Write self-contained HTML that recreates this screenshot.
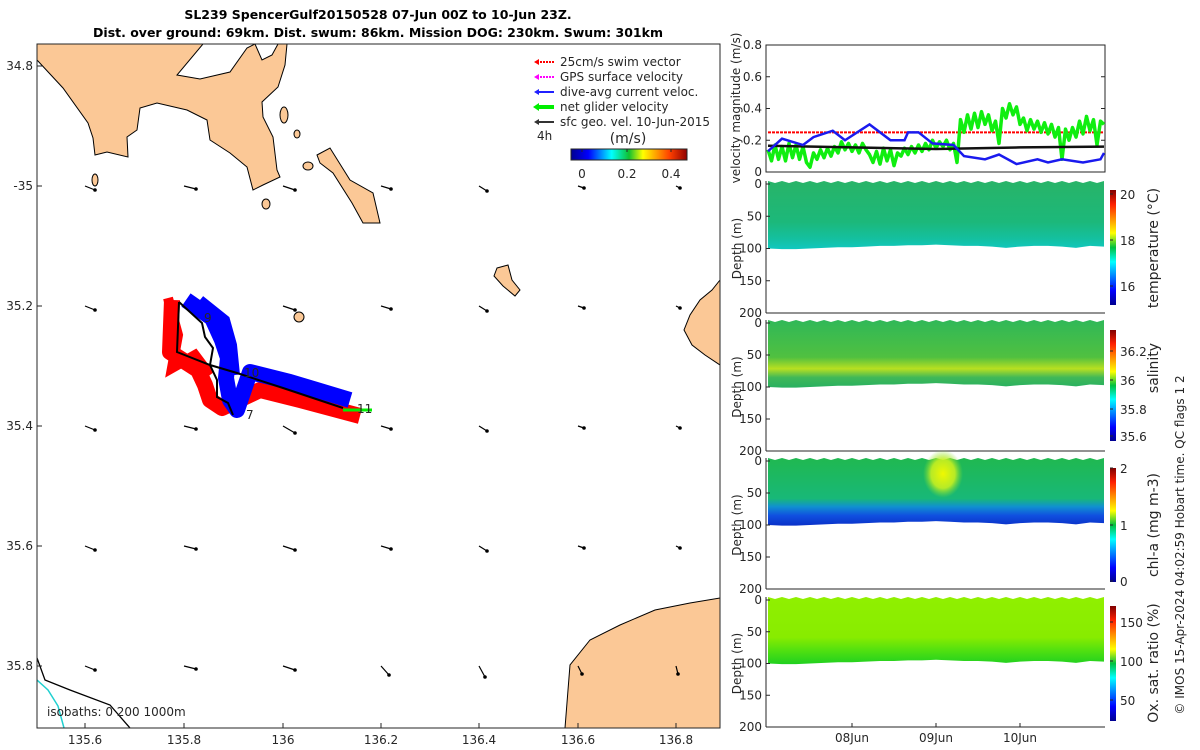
<!DOCTYPE html>
<html><head><meta charset="utf-8">
<style>
body{margin:0;background:#fff;}
svg{display:block;font-family:"DejaVu Sans","Liberation Sans",sans-serif;}
.t{font-size:12px;fill:#262626;}
</style></head>
<body>
<svg id="root" width="1200" height="750" viewBox="0 0 1200 750" xmlns="http://www.w3.org/2000/svg">
<defs>
<linearGradient id="jet" x1="0" y1="1" x2="0" y2="0">
<stop offset="0" stop-color="#00008f"/><stop offset="0.125" stop-color="#0000ff"/><stop offset="0.375" stop-color="#00ffff"/><stop offset="0.5" stop-color="#00c040"/><stop offset="0.625" stop-color="#ffff00"/><stop offset="0.875" stop-color="#ff2000"/><stop offset="1" stop-color="#800000"/>
</linearGradient>
<linearGradient id="jetH" x1="0" y1="0" x2="1" y2="0">
<stop offset="0" stop-color="#00008f"/><stop offset="0.15" stop-color="#0000ff"/><stop offset="0.35" stop-color="#00ffff"/><stop offset="0.5" stop-color="#10c030"/><stop offset="0.62" stop-color="#ffff00"/><stop offset="0.85" stop-color="#ff4000"/><stop offset="1" stop-color="#900000"/>
</linearGradient>
<linearGradient id="gT" x1="0" y1="0" x2="0" y2="1">
<stop offset="0" stop-color="#28b468"/><stop offset="0.6" stop-color="#1cb87a"/><stop offset="0.85" stop-color="#14c0a0"/><stop offset="1" stop-color="#10c8c0"/>
</linearGradient>
<linearGradient id="gS" x1="0" y1="0" x2="0" y2="1">
<stop offset="0" stop-color="#30b858"/><stop offset="0.55" stop-color="#50c040"/><stop offset="0.72" stop-color="#b8e020"/><stop offset="0.85" stop-color="#40b858"/><stop offset="1" stop-color="#28b060"/>
</linearGradient>
<linearGradient id="gC" x1="0" y1="0" x2="0" y2="1">
<stop offset="0" stop-color="#20b850"/><stop offset="0.6" stop-color="#18b878"/><stop offset="0.72" stop-color="#1090d0"/><stop offset="0.85" stop-color="#1050e0"/><stop offset="1" stop-color="#0a30c8"/>
</linearGradient>
<linearGradient id="gO" x1="0" y1="0" x2="0" y2="1">
<stop offset="0" stop-color="#90f000"/><stop offset="0.6" stop-color="#88ec00"/><stop offset="0.8" stop-color="#50e010"/><stop offset="1" stop-color="#20d020"/>
</linearGradient>
<radialGradient id="bloom"><stop offset="0" stop-color="#f0f800"/><stop offset="0.6" stop-color="#c8f020" stop-opacity="0.9"/><stop offset="1" stop-color="#80e030" stop-opacity="0"/></radialGradient>
<clipPath id="mapclip"><rect x="37" y="44" width="683" height="684"/></clipPath>
</defs>

<text x="378" y="19" text-anchor="middle" font-size="12.5" font-weight="bold" fill="#000">SL239 SpencerGulf20150528 07-Jun 00Z to 10-Jun 23Z.</text>
<text x="378" y="37" text-anchor="middle" font-size="12.5" font-weight="bold" fill="#000">Dist. over ground: 69km. Dist. swum: 86km. Mission DOG: 230km. Swum: 301km</text>

<g>
<g clip-path="url(#mapclip)">
<path fill="#fbc896" stroke="#000" stroke-width="1" d="M37,44 L203,44 L177,75 L200,79 L230,72 L247,48 L255,44 L262,60 L272,55 L278,44 L287,44 L285,65 L278,87 L262,102 L263,117 L273,137 L277,170 L280,177 L263,185 L253,190 L247,167 L230,153 L210,140 L207,120 L187,110 L157,103 L140,108 L137,130 L127,137 L128,157 L107,152 L95,155 L93,138 L88,123 L63,88 L37,60 Z"/>
<path fill="#fbc896" stroke="#000" d="M317,155 L330,148 L350,180 L373,193 L380,223 L363,223 L352,203 L333,173 L320,163 Z"/>
<ellipse cx="284" cy="115" rx="4" ry="8" fill="#fbc896" stroke="#000"/>
<ellipse cx="266" cy="204" rx="4" ry="5" fill="#fbc896" stroke="#000"/>
<ellipse cx="308" cy="166" rx="5" ry="4" fill="#fbc896" stroke="#000"/>
<ellipse cx="297" cy="134" rx="3" ry="4" fill="#fbc896" stroke="#000"/>
<ellipse cx="95" cy="180" rx="3" ry="6" fill="#fbc896" stroke="#000"/>
<path d="M497,268 L508,265 L512,280 L520,290 L515,296 L503,286 L494,276 Z" fill="#fbc896" stroke="#000"/>
<ellipse cx="299" cy="317" rx="5" ry="5" fill="#fbc896" stroke="#000"/>
<path d="M720,280 L712,290 L700,300 L690,315 L684,330 L692,345 L705,355 L720,365 Z" fill="#fbc896" stroke="#000"/>
<path d="M565,728 L568,690 L570,665 L590,640 L620,625 L655,610 L690,603 L720,598 L720,728 Z" fill="#fbc896" stroke="#000"/>
<path d="M37,658 L45,680 L70,690 L110,705 L130,728" fill="none" stroke="#000" stroke-width="1.3"/>
<path d="M37,680 L48,690 L58,706 L64,728" fill="none" stroke="#20d0d0" stroke-width="1.5"/>
<g id="arrows"></g>
<polyline points="172,300 170,352 198,370 205,385 210,400 222,408 260,390 300,400 360,416" fill="none" stroke="#ff0000" stroke-width="16" stroke-linejoin="round"/>
<polyline points="168,298 178,335 172,368 195,355 210,375" fill="none" stroke="#ff0000" stroke-width="10"/>
<polyline points="186,300 212,318 222,340 228,358 226,378 230,400 237,410 250,372 290,382 350,400" fill="none" stroke="#0000ff" stroke-width="16" stroke-linejoin="round"/>
<polyline points="200,300 225,320 232,345 235,375" fill="none" stroke="#0000ff" stroke-width="10"/>
<polyline points="179,302 202,323 205,337 213,348 210,365 217,380 217,397 228,403 233,415" fill="none" stroke="#000" stroke-width="2"/>
<polyline points="179,302 177,352 210,365 237,373 283,388 343,408" fill="none" stroke="#000" stroke-width="2"/>
<line x1="343" y1="410" x2="372" y2="410" stroke="#00ee00" stroke-width="3"/>
<text x="204" y="322" class="t">9</text>
<text x="244" y="377" class="t">10</text>
<text x="357" y="413" class="t">11</text>
<text x="246" y="419" class="t">7</text>
</g>
<rect x="37" y="44" width="683" height="684" fill="none" stroke="#262626"/>
<g id="mapticks"></g>
<text x="47" y="716" class="t">isobaths: 0    200  1000m</text>
<g font-size="12" fill="#262626">
<g><line x1="537" y1="62" x2="554" y2="62" stroke="#ff0000" stroke-dasharray="2,1" stroke-width="2"/><path d="M534,62 l5,-3 v6z" fill="#ff0000"/><text x="560" y="66">25cm/s swim vector</text></g>
<g><line x1="537" y1="77" x2="554" y2="77" stroke="#ff00ff" stroke-dasharray="2,1" stroke-width="2"/><path d="M534,77 l5,-3 v6z" fill="#ff00ff"/><text x="560" y="81">GPS surface velocity</text></g>
<g><line x1="537" y1="92" x2="554" y2="92" stroke="#2020ff" stroke-width="2"/><path d="M534,92 l5,-3 v6z" fill="#2020ff"/><text x="560" y="96">dive-avg current veloc.</text></g>
<g><line x1="537" y1="107" x2="554" y2="107" stroke="#00ee00" stroke-width="4"/><path d="M533,107 l6,-4 v8z" fill="#00ee00"/><text x="560" y="111">net glider velocity</text></g>
<g><line x1="537" y1="122" x2="554" y2="122" stroke="#333" stroke-width="2"/><path d="M534,122 l5,-3 v6z" fill="#333"/><text x="560" y="126">sfc geo. vel. 10-Jun-2015</text></g>
<text x="537" y="140">4h</text>
<text x="628" y="143" text-anchor="middle" font-size="14">(m/s)</text>
<rect x="571" y="149" width="116" height="11" fill="url(#jetH)" stroke="#262626"/>
<line x1="582" y1="149" x2="582" y2="152" stroke="#262626"/><line x1="627" y1="149" x2="627" y2="152" stroke="#262626"/><line x1="671" y1="149" x2="671" y2="152" stroke="#262626"/>
<text x="582" y="178" text-anchor="middle">0</text><text x="627" y="178" text-anchor="middle">0.2</text><text x="671" y="178" text-anchor="middle">0.4</text>
</g>
</g>

<g id="vel">
<rect x="766" y="45" width="339" height="127" fill="none" stroke="#262626"/>
<text transform="translate(740,108) rotate(-90)" text-anchor="middle" class="t">velocity magnitude (m/s)</text>
</g>

<text transform="translate(1184,545) rotate(-90)" text-anchor="middle" font-size="12" fill="#262626">© IMOS 15-Apr-2024 04:02:59 Hobart time. QC flags 1  2</text>

<script>
const greenVals = [0.14,0.07,0.17,0.08,0.16,0.07,0.18,0.09,0.17,0.08,0.16,0.06,0.03,0.12,0.08,0.14,0.09,0.15,0.10,0.16,0.12,0.19,0.14,0.18,0.13,0.17,0.12,0.18,0.14,0.11,0.06,0.13,0.05,0.15,0.07,0.14,0.04,0.12,0.10,0.15,0.11,0.16,0.12,0.17,0.13,0.18,0.14,0.20,0.15,0.19,0.16,0.20,0.14,0.18,0.06,0.33,0.25,0.36,0.27,0.37,0.28,0.38,0.30,0.36,0.26,0.32,0.18,0.40,0.34,0.43,0.36,0.41,0.30,0.34,0.26,0.33,0.27,0.32,0.25,0.31,0.24,0.30,0.22,0.28,0.08,0.27,0.20,0.28,0.22,0.32,0.24,0.35,0.26,0.33,0.17,0.32,0.30];
const blueHours = [0,4,10,13,18.5,22,29,35,39,40,43,47,53,56,62,66,71,77,80,84,90,95,96];
const blueVals = [0.13,0.21,0.17,0.22,0.26,0.20,0.30,0.20,0.20,0.25,0.25,0.18,0.17,0.10,0.08,0.11,0.05,0.08,0.06,0.08,0.06,0.08,0.12];
const blackHours = [0,24,48,72,96];
const blackVals = [0.165,0.155,0.145,0.155,0.16];
const swimVal = 0.25;
const velTicks = [0,0.2,0.4,0.6,0.8];
const dayTicks = ["08Jun","09Jun","10Jun"];
const dayTickHours = [24,48,72];
const profileHours = [0,4,8,12,16,20,24,28,32,36,40,44,48,52,56,60,64,68,72,76,80,84,88,92,96];
const bottomDepth = [100,101,101,100,99,98,98,97,96,96,95,95,94,95,96,96,97,99,97,96,96,97,99,96,97];

const NS='http://www.w3.org/2000/svg';
function el(t,a,p){const e=document.createElementNS(NS,t);for(const k in a)e.setAttribute(k,a[k]);(p||document.getElementById('root')).appendChild(e);return e;}
const X0=768,X1=1104;
const xT=h=>X0+(X1-X0)*h/96;
const yV=v=>172-v*127/0.8;

const vel=document.getElementById('vel');
velTicks.forEach(v=>{
  const tx=el('text',{x:762,y:yV(v)+4,'text-anchor':'end',class:'t'},vel);tx.textContent=v===0?'0':String(v);
  
  
  el('line',{x1:766,x2:770,y1:yV(v),y2:yV(v),stroke:'#262626'},vel);
  el('line',{x1:1101,x2:1105,y1:yV(v),y2:yV(v),stroke:'#262626'},vel);
});
const sw=el('line',{x1:xT(0),x2:xT(96),y1:yV(swimVal),y2:yV(swimVal),stroke:'#ff0000','stroke-width':2,'stroke-dasharray':'3,1'},vel);


const gp=el('polyline',{points:greenVals.map((v,i)=>xT(i*96/(greenVals.length-1))+','+yV(v)).join(' '),fill:'none',stroke:'#10ee10','stroke-width':3.5,'stroke-linejoin':'round'},vel);


const kp=el('polyline',{points:blackHours.map((h,i)=>xT(h)+','+yV(blackVals[i])).join(' '),fill:'none',stroke:'#111','stroke-width':2.5},vel);


const bp=el('polyline',{points:blueHours.map((h,i)=>xT(h)+','+yV(blueVals[i])).join(' '),fill:'none',stroke:'#1a1aee','stroke-width':2.5},vel);



const panels=[
 {name:'temperature',top:184,bot:313,grad:'gT',cb0:190,cb1:305,ticks:[['20',194],['18',240],['16',286]],title:'temperature (°C)',ty:248},
 {name:'salinity',top:323,bot:451,grad:'gS',cb0:330,cb1:441,ticks:[['36.2',351],['36',380],['35.8',409],['35.6',436]],title:'salinity',ty:368},
 {name:'chla',top:461,bot:589,grad:'gC',cb0:468,cb1:582,ticks:[['2',468],['1',525],['0',581]],title:'chl-a (mg m-3)',ty:525},
 {name:'oxygen',top:600,bot:727,grad:'gO',cb0:606,cb1:721,ticks:[['150',622],['100',661],['50',700]],title:'Ox. sat. ratio (%)',ty:663}
];
const depthTicks=[0,50,100,150,200];
panels.forEach((p,pi)=>{
  const g=el('g',{});
  
  
  const yD=d=>p.top+(p.bot-p.top)*d/200;
  let d='M'+xT(0)+','+(p.top-3);
  for(let h=0;h<=96;h+=2){d+=' L'+xT(h)+','+(p.top-3+(h%4?2:0));}
  for(let i=profileHours.length-1;i>=0;i--){d+=' L'+xT(profileHours[i])+','+yD(bottomDepth[i]);}
  d+=' Z';
  const f=el('path',{d:d,fill:'url(#'+p.grad+')'},g);
  
  
  if(p.name==='chla'){
    const bl=el('ellipse',{cx:xT(50),cy:yD(20),rx:20,ry:24,fill:'url(#bloom)'},g);
    
    
  }
  el('line',{x1:766,x2:766,y1:p.top-3,y2:p.bot,stroke:'#262626'},g);
  el('line',{x1:766,x2:1105,y1:p.bot,y2:p.bot,stroke:'#262626'},g);
  depthTicks.forEach(v=>{
    el('line',{x1:766,x2:770,y1:yD(v),y2:yD(v),stroke:'#262626'},g);
    const t=el('text',{x:762,y:yD(v)+4,'text-anchor':'end',class:'t'},g);t.textContent=v;
    
    
  });
  if(pi===3){dayTickHours.forEach((h,i)=>{
    el('line',{x1:xT(h),x2:xT(h),y1:p.bot,y2:p.bot-4,stroke:'#262626'},g);
    const t=el('text',{x:xT(h),y:p.bot+15,'text-anchor':'middle',class:'t'},g);t.textContent=dayTicks[i];
    
    
  });}
  const yl=el('text',{transform:'translate(741,'+((p.top+p.bot)/2)+') rotate(-90)','text-anchor':'middle',class:'t'},g);yl.textContent='Depth (m)';
  
  
  const cb=el('rect',{x:1110,y:p.cb0,width:6,height:p.cb1-p.cb0,fill:'url(#jet)'},g);
  
  
  p.ticks.forEach(tk=>{
    el('line',{x1:1110,x2:1113,y1:tk[1],y2:tk[1],stroke:'#262626'},g);
    const t=el('text',{x:1120,y:tk[1]+5,class:'t','font-size':'13'},g);t.textContent=tk[0];
    
    
  });
  const ct=el('text',{transform:'translate(1158,'+p.ty+') rotate(-90)','text-anchor':'middle','font-size':'14',fill:'#262626'},g);ct.textContent=p.title;
  
  
});

const lonTicks=['135.6','135.8','136','136.2','136.4','136.6','136.8'];
const lonPx=[85,184,283,381,479,578,676];
const latTicks=['34.8','-35','35.2','35.4','35.6','35.8'];
const latPx=[66,186,306,426,546,666];
const mt=document.getElementById('mapticks');
lonTicks.forEach((l,i)=>{
  el('line',{x1:lonPx[i],x2:lonPx[i],y1:728,y2:723,stroke:'#262626'},mt);
  const t=el('text',{x:lonPx[i],y:744,'text-anchor':'middle',class:'t'},mt);t.textContent=l;
  
  
});
latTicks.forEach((l,i)=>{
  el('line',{x1:37,x2:42,y1:latPx[i],y2:latPx[i],stroke:'#262626'},mt);
  const t=el('text',{x:33,y:latPx[i]+4,'text-anchor':'end',class:'t'},mt);t.textContent=l;
  
  
});
const ar=document.getElementById('arrows');
const arrowDx=[10,12,12,10,8,6,4];
const arrowDy=[4,3,4,3,5,2,2];
latPx.slice(1).forEach((y,j)=>{lonPx.forEach((x,i)=>{
  const dx=arrowDx[i]-(j===4&&i>2?2:0), dy=arrowDy[i]+(j===4&&i>2?6:0)+(j===2&&i===2?3:0);
  const a=el('line',{x1:x,y1:y,x2:x+dx,y2:y+dy,stroke:'#000','stroke-width':1.2},ar);
  
  
  el('circle',{cx:x+dx,cy:y+dy,r:1.8,fill:'#000'},ar);
});});
</script>
</svg>
</body></html>
